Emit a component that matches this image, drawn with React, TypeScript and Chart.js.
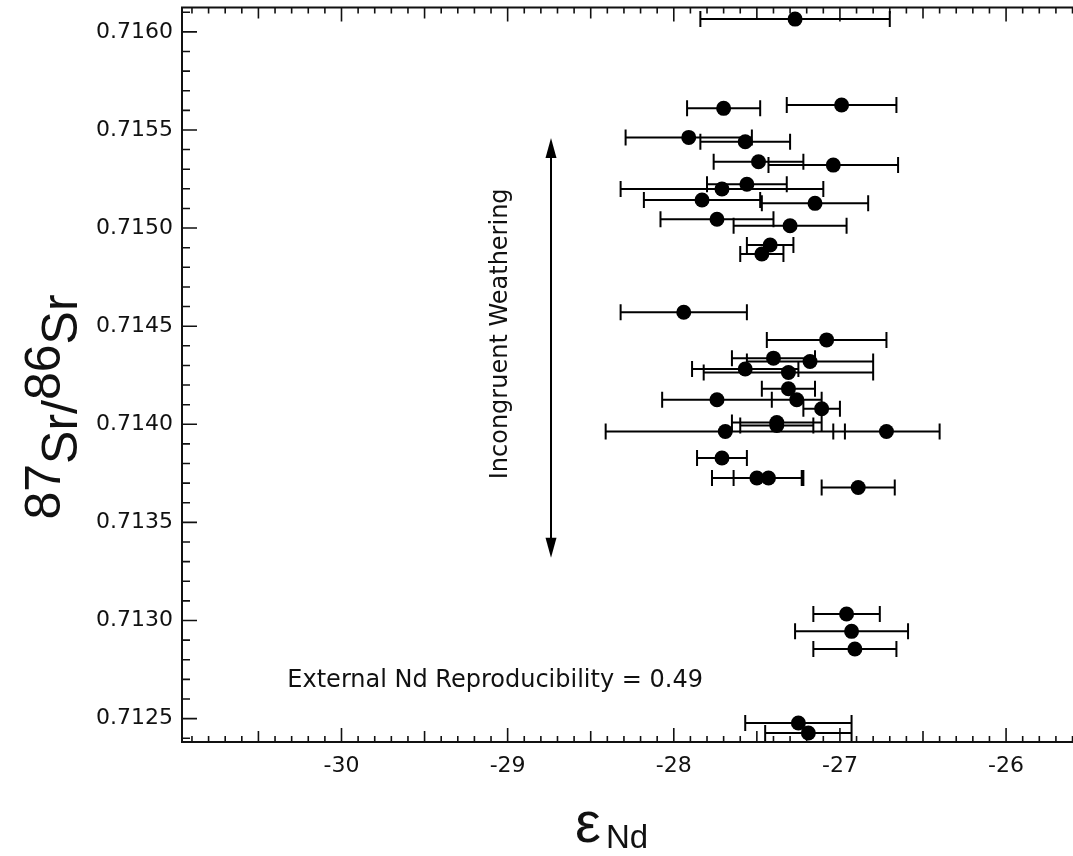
import React, { useEffect, useRef } from "react";
import { Chart, registerables } from "chart.js";

Chart.register(...registerables);

// εNd values (x), 87Sr/86Sr values (y), and εNd error (±, horizontal)
const epsNd = [
  -27.27, -27.7, -26.99, -27.91, -27.57, -27.49, -27.04, -27.56, -27.71, -27.83,
  -27.15, -27.74, -27.3, -27.42, -27.47, -27.94, -27.08, -27.4, -27.18, -27.57,
  -27.31, -27.31, -27.74, -27.26, -27.11, -27.38, -27.38, -27.69, -26.72, -27.71,
  -27.5, -27.43, -26.89, -26.96, -26.93, -26.91, -27.25, -27.19,
];
const srRatio = [
  0.716065, 0.71561, 0.715627, 0.715462, 0.71544, 0.715338, 0.715321, 0.715223, 0.715199, 0.715143,
  0.715126, 0.715045, 0.715012, 0.714914, 0.714868, 0.714571, 0.71443, 0.714337, 0.71432, 0.714282,
  0.714264, 0.714181, 0.714125, 0.714125, 0.714079, 0.714009, 0.713994, 0.713963, 0.713963, 0.713828,
  0.713726, 0.713726, 0.713678, 0.713033, 0.712945, 0.712855, 0.712478, 0.712427,
];
const epsNdErr = [
  0.57, 0.22, 0.33, 0.38, 0.27, 0.27, 0.39, 0.24, 0.61, 0.35,
  0.32, 0.34, 0.34, 0.14, 0.13, 0.38, 0.36, 0.25, 0.38, 0.32,
  0.51, 0.16, 0.33, 0.15, 0.11, 0.27, 0.22, 0.72, 0.32, 0.15,
  0.27, 0.21, 0.22, 0.2, 0.34, 0.25, 0.32, 0.26,
];

const xTickValues = [-30, -29, -28, -27, -26];
const yTickValues = [0.7125, 0.713, 0.7135, 0.714, 0.7145, 0.715, 0.7155, 0.716];
const xLimits = [-30.96, -25.54];
const yLimits = [0.712381, 0.716124];

const arrowX = -28.739;
const arrowYs = [0.715459, 0.71332];
const arrowLabel = "Incongruent Weathering";
const arrowLabelPos = [-29.041, 0.714461];
const noteText = "External Nd Reproducibility = 0.49";
const notePos = [-30.326, 0.712663];

const TICK_FONT = "DejaVu Sans";
const INK = "#111";

const framePlugin = {
  id: "frameTicks",
  beforeDatasetsDraw(chart: any) {
    const { ctx, chartArea } = chart;
    const xs = chart.scales.x;
    const ys = chart.scales.y;
    const { left, top, bottom, right } = chartArea;
    ctx.save();
    ctx.strokeStyle = INK;
    ctx.lineWidth = 2;
    ctx.beginPath();
    ctx.moveTo(left, top);
    ctx.lineTo(left, bottom);
    ctx.moveTo(left - 1, bottom);
    ctx.lineTo(right, bottom);
    ctx.moveTo(left - 1, top);
    ctx.lineTo(right, top);
    ctx.stroke();
    ctx.lineWidth = 1.6;
    ctx.beginPath();
    const kx0 = Math.ceil(xs.min * 10);
    const kx1 = Math.floor(xs.max * 10);
    for (let k = kx0; k <= kx1; k++) {
      const px = xs.getPixelForValue(k / 10);
      const len = k % 10 === 0 ? 14 : k % 5 === 0 ? 11 : 6;
      ctx.moveTo(px, bottom);
      ctx.lineTo(px, bottom - len);
      ctx.moveTo(px, top);
      ctx.lineTo(px, top + len);
    }
    const ky0 = Math.ceil(ys.min * 10000 - 1e-6);
    const ky1 = Math.floor(ys.max * 10000 + 1e-6);
    for (let k = ky0; k <= ky1; k++) {
      const py = ys.getPixelForValue(k / 10000);
      const len = k % 5 === 0 ? 15 : 8;
      ctx.moveTo(left, py);
      ctx.lineTo(left + len, py);
    }
    ctx.stroke();
    ctx.restore();
  },
};

const errorBarPlugin = {
  id: "errorBars",
  beforeDatasetsDraw(chart: any) {
    const { ctx } = chart;
    const xs = chart.scales.x;
    const ys = chart.scales.y;
    ctx.save();
    ctx.strokeStyle = "#000";
    ctx.lineWidth = 2;
    ctx.beginPath();
    epsNd.forEach((v, i) => {
      const py = ys.getPixelForValue(srRatio[i]);
      const x1 = xs.getPixelForValue(v - epsNdErr[i]);
      const x2 = xs.getPixelForValue(v + epsNdErr[i]);
      ctx.moveTo(x1, py);
      ctx.lineTo(x2, py);
      ctx.moveTo(x1, py - 8);
      ctx.lineTo(x1, py + 8);
      ctx.moveTo(x2, py - 8);
      ctx.lineTo(x2, py + 8);
    });
    ctx.stroke();
    ctx.restore();
  },
};

const annotationPlugin = {
  id: "annotations",
  afterDatasetsDraw(chart: any) {
    const { ctx } = chart;
    const xs = chart.scales.x;
    const ys = chart.scales.y;
    ctx.save();
    const ax = xs.getPixelForValue(arrowX);
    const ay1 = ys.getPixelForValue(arrowYs[0]);
    const ay2 = ys.getPixelForValue(arrowYs[1]);
    ctx.strokeStyle = "#000";
    ctx.fillStyle = "#000";
    ctx.lineWidth = 2;
    ctx.beginPath();
    ctx.moveTo(ax, ay1 + 10);
    ctx.lineTo(ax, ay2 - 10);
    ctx.stroke();
    ctx.beginPath();
    ctx.moveTo(ax, ay1);
    ctx.lineTo(ax - 5.5, ay1 + 20);
    ctx.lineTo(ax + 5.5, ay1 + 20);
    ctx.closePath();
    ctx.fill();
    ctx.beginPath();
    ctx.moveTo(ax, ay2);
    ctx.lineTo(ax - 5.5, ay2 - 20);
    ctx.lineTo(ax + 5.5, ay2 - 20);
    ctx.closePath();
    ctx.fill();
    ctx.fillStyle = INK;
    ctx.font = `24px "${TICK_FONT}"`;
    ctx.translate(xs.getPixelForValue(arrowLabelPos[0]), ys.getPixelForValue(arrowLabelPos[1]));
    ctx.rotate(-Math.PI / 2);
    ctx.textAlign = "center";
    ctx.textBaseline = "middle";
    ctx.fillText(arrowLabel, 0, 0);
    ctx.restore();

    ctx.save();
    ctx.fillStyle = INK;
    ctx.font = `24px "${TICK_FONT}"`;
    ctx.textAlign = "left";
    ctx.textBaseline = "alphabetic";
    ctx.fillText(noteText, xs.getPixelForValue(notePos[0]), ys.getPixelForValue(notePos[1]));
    ctx.restore();
  },
};

const titlePlugin = {
  id: "axisTitles",
  afterDraw(chart: any) {
    const { ctx } = chart;
    const parts = [
      { t: "87", sup: true },
      { t: "Sr", sup: false },
      { t: "/", sup: false },
      { t: "86", sup: true },
      { t: "Sr", sup: false },
    ];
    ctx.save();
    ctx.fillStyle = INK;
    ctx.font = `50px "Liberation Sans"`;
    const widths = parts.map((p) => ctx.measureText(p.t).width);
    const total = widths.reduce((a, b) => a + b, 0);
    ctx.translate(77, 407);
    ctx.rotate(-Math.PI / 2);
    ctx.textBaseline = "alphabetic";
    ctx.textAlign = "left";
    let cx = -total / 2;
    parts.forEach((p, i) => {
      ctx.fillText(p.t, cx, p.sup ? -17 : 0);
      cx += widths[i];
    });
    ctx.restore();

    ctx.save();
    ctx.fillStyle = INK;
    ctx.textBaseline = "alphabetic";
    ctx.textAlign = "left";
    ctx.font = `58px "Liberation Sans"`;
    ctx.fillText("ε", 575, 842);
    ctx.font = `33px "Liberation Sans"`;
    ctx.fillText("Nd", 606, 848);
    ctx.restore();
  },
};

export default function App() {
  const canvasRef = useRef<HTMLCanvasElement | null>(null);

  useEffect(() => {
    if (!canvasRef.current) return;
    const chart = new Chart(canvasRef.current, {
      type: "scatter",
      data: {
        datasets: [
          {
            label: "samples",
            data: epsNd.map((x, i) => ({ x, y: srRatio[i] })),
            pointRadius: 7.5,
            pointHoverRadius: 7.5,
            pointBackgroundColor: "#000",
            pointBorderColor: "#000",
            pointBorderWidth: 0,
            showLine: false,
          },
        ],
      },
      options: {
        animation: false,
        responsive: false,
        devicePixelRatio: 1,
        events: [],
        layout: { padding: { left: 0, top: 7, right: 5, bottom: 0 } },
        plugins: {
          legend: { display: false },
          tooltip: { enabled: false },
          title: { display: false },
        },
        scales: {
          x: {
            type: "linear",
            position: "bottom",
            min: xLimits[0],
            max: xLimits[1],
            grid: { display: false, drawTicks: false },
            border: { display: false },
            afterBuildTicks: (s: any) => {
              s.ticks = xTickValues.map((v) => ({ value: v }));
            },
            afterFit: (s: any) => {
              s.height = 114;
              s.paddingLeft = 0;
              s.paddingRight = 0;
            },
            ticks: {
              padding: 11,
              color: INK,
              font: { family: TICK_FONT, size: 22 },
              maxRotation: 0,
              callback: (v: any) => String(v),
            },
          },
          y: {
            type: "linear",
            min: yLimits[0],
            max: yLimits[1],
            grid: { display: false, drawTicks: false },
            border: { display: false },
            afterBuildTicks: (s: any) => {
              s.ticks = yTickValues.map((v) => ({ value: v }));
            },
            afterFit: (s: any) => {
              s.width = 182;
              s.paddingTop = 0;
              s.paddingBottom = 0;
            },
            ticks: {
              padding: 9,
              color: INK,
              font: { family: TICK_FONT, size: 22 },
              callback: (v: any) => Number(v).toFixed(4),
            },
          },
        },
      },
      plugins: [framePlugin, errorBarPlugin, annotationPlugin, titlePlugin],
    });
    return () => chart.destroy();
  }, []);

  return (
    <div
      style={{
        position: "fixed",
        left: 0,
        top: 0,
        width: 1073,
        height: 856,
        overflow: "hidden",
        background: "#fff",
      }}
    >
      <canvas ref={canvasRef} width={1090} height={856} style={{ width: 1090, height: 856, display: "block" }} />
    </div>
  );
}
